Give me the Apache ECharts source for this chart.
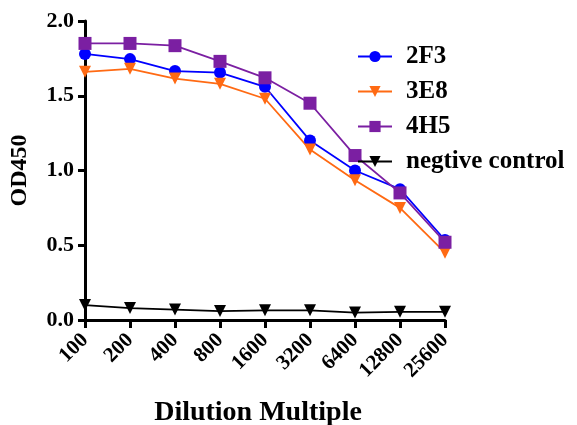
<!DOCTYPE html>
<html><head><meta charset="utf-8">
<script src="https://cdn.jsdelivr.net/npm/echarts@6/dist/echarts.min.js"></script>
<style>html,body{margin:0;padding:0;background:#fff}#c{width:577px;height:425px}</style>
</head><body><div id="c"></div>
<script>
var categories = ['100','200','400','800','1600','3200','6400','12800','25600'];
var s2F3 = [1.78,1.745,1.665,1.655,1.56,1.20,1.00,0.875,0.535];
var s3E8 = [1.66,1.68,1.615,1.58,1.48,1.14,0.935,0.75,0.45];
var s4H5 = [1.85,1.85,1.835,1.73,1.62,1.45,1.10,0.85,0.52];
var sNeg = [0.10,0.08,0.07,0.06,0.065,0.065,0.05,0.055,0.055];
var yTicks = [0,0.5,1.0,1.5,2.0];

var font = 'Liberation Serif';
function mk(name, data, color, symbol, rot){
  return {name:name,type:'line',data:data,symbol:symbol,symbolSize:symbol==='rect'?13:12,symbolRotate:rot||0,
    itemStyle:{color:color},lineStyle:{color:color,width:1.8},z:symbol==='rect'?3:2};
}
var chart = echarts.init(document.getElementById('c'));
chart.setOption({
  animation:false,
  grid:{left:85,right:132,top:21,bottom:105,containLabel:false,outerBoundsMode:'none'},
  legend:{orient:'vertical',left:352,top:39,itemWidth:34,itemHeight:14,itemGap:10,
    textStyle:{fontFamily:font,fontWeight:'bold',fontSize:25,color:'#000',padding:[0,0,0,9]},
    data:['2F3','3E8','4H5','negtive control']},
  xAxis:{type:'category',data:categories,boundaryGap:false,
    name:'Dilution Multiple',nameLocation:'middle',nameGap:79,
    nameTextStyle:{fontFamily:font,fontWeight:'bold',fontSize:28,color:'#000',padding:[0,14,0,0]},
    axisLine:{lineStyle:{color:'#000',width:3}},
    axisTick:{alignWithLabel:true,length:8,lineStyle:{color:'#000',width:3}},
    axisLabel:{rotate:45,fontFamily:font,fontWeight:'bold',fontSize:21,color:'#000',margin:17,interval:0},
    splitLine:{show:false}},
  yAxis:{type:'value',min:0,max:2,interval:0.5,
    name:'OD450',nameLocation:'middle',nameGap:53,
    nameTextStyle:{fontFamily:font,fontWeight:'bold',fontSize:24,color:'#000'},
    axisLine:{show:true,lineStyle:{color:'#000',width:3}},
    axisTick:{show:true,length:7,lineStyle:{color:'#000',width:3}},
    axisLabel:{fontFamily:font,fontWeight:'bold',fontSize:22,color:'#000',margin:11,
      formatter:function(v){return yTicks.indexOf(v)>=0?v.toFixed(1):'';}},
    splitLine:{show:false}},
  series:[
    mk('2F3',s2F3,'#0000FF','circle'),
    mk('3E8',s3E8,'#FF6A13','triangle',180),
    mk('4H5',s4H5,'#7B1FA2','rect'),
    mk('negtive control',sNeg,'#000000','triangle',180)
  ]
});
</script></body></html>
